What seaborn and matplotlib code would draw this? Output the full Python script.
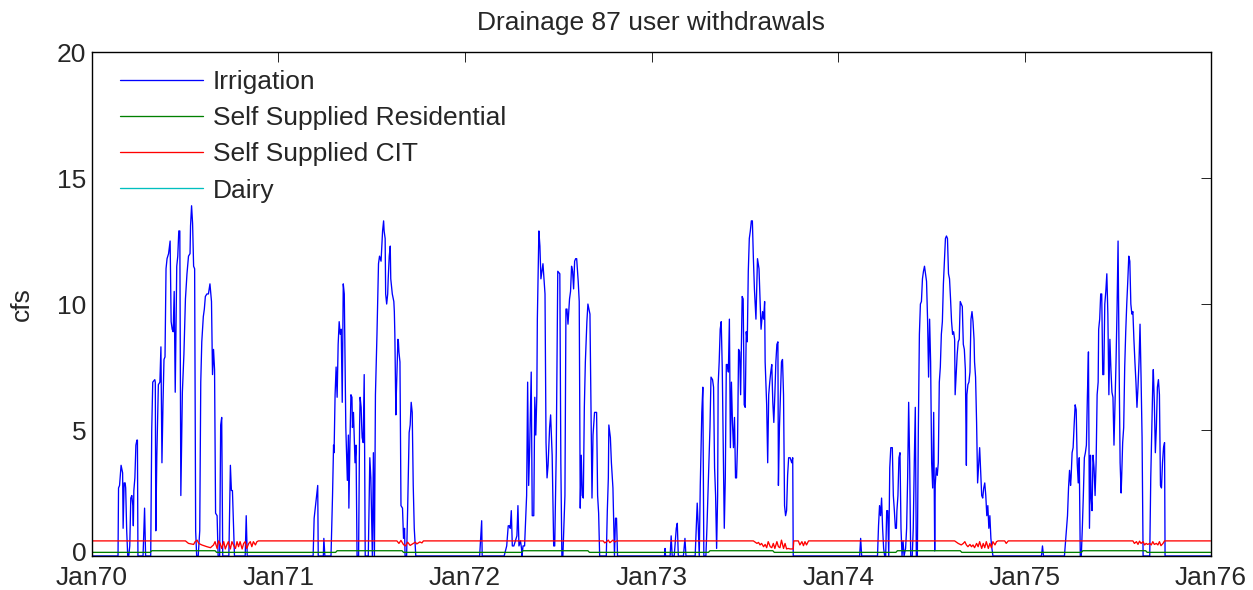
import matplotlib
matplotlib.use("Agg")
import matplotlib.pyplot as plt
import matplotlib.dates as mdates
import matplotlib.transforms as mtransforms
import numpy as np
import pandas as pd
import seaborn as sns

# ---------------- data (day-of-year, cfs) ----------------
years = [1970, 1971, 1972, 1973, 1974, 1975]
series_names = ["Irrigation", "Self Supplied Residential", "Self Supplied CIT", "Dairy"]
series_colors = ["#0000ff", "#008000", "#ff0000", "#00bfbf"]
title_text = "Drainage 87 user withdrawals"
ylabel_text = "cfs"
series_end = "1975-12-31"

irr_1970 = [(0,0),(51,0),(52,2.7),(54,2.8),(57,3.6),(59,3.4),(60,3.3),(61,1.1),(63,2.9),(65,2.9),(66,2.7),(68,1.0),(70,0),(72,0),(74,0.4),(76,2.3),(78,2.4),(80,2.0),(81,1.2),(82,2.6),(84,3.1),(86,4.4),(88,4.6),(89,4.6),(90,0),(100,0),(103,1.9),(105,0),(115,0),(117,5.0),(119,6.9),(123,7.0),(124,6.9),(125,1.0),(127,4.0),(130,6.8),(133,6.9),(135,8.3),(137,3.7),(139,6.0),(141,7.8),(143,7.9),(145,11.4),(147,11.8),(150,12.0),(153,12.5),(155,9.3),(157,9.0),(159,8.9),(161,10.5),(163,6.5),(166,11.5),(168,11.9),(170,12.9),(172,12.9),(174,2.4),(177,6.5),(180,8.0),(183,10.2),(186,11.2),(189,11.9),(192,12.0),(193,13.1),(195,13.9),(197,13.2),(199,11.5),(201,11.4),(203,1.0),(205,0),(208,0),(211,1.0),(213,6.9),(215,8.5),(218,9.5),(220,9.8),(222,10.3),(225,10.4),(228,10.4),(231,10.8),(234,10.1),(236,7.2),(238,8.2),(240,7.4),(242,1.7),(245,1.6),(247,0),(250,0),(252,5.2),(254,5.5),(256,0),(268,0),(271,3.6),(273,2.6),(275,2.6),(277,1.3),(279,0),(300,0),(302,1.6),(304,0)]
irr_1971 = [(0,0),(68,0),(70,1.5),(77,2.8),(78,0),(88,0),(89,0.7),(91,0),(103,0),(106,2.4),(108,4.4),(109,4.1),(111,6.4),(113,7.5),(115,6.3),(117,8.4),(119,9.3),(121,8.8),(123,9.0),(125,6.1),(127,10.8),(129,10.4),(132,5.1),(133,4.4),(135,3.0),(137,4.8),(138,1.9),(140,4.4),(142,6.4),(144,6.3),(145,5.1),(147,5.7),(149,4.4),(150,3.7),(152,4.4),(154,0),(157,0),(159,5.2),(160,6.3),(162,5.9),(163,5.2),(164,4.7),(166,4.5),(168,7.2),(170,0),(176,0),(179,3.9),(181,3.1),(184,0),(186,4.1),(188,0),(190,6.4),(193,8.8),(196,11.6),(198,11.9),(201,11.7),(204,12.9),(206,13.3),(207,12.9),(209,12.6),(210,10.4),(212,10.0),(214,10.4),(215,11.0),(217,11.9),(219,12.3),(220,11.0),(223,10.4),(226,10.1),(227,9.7),(228,8.8),(230,5.6),(231,6.5),(234,8.6),(235,8.5),(236,8.1),(238,7.7),(240,2.0),(243,1.9),(245,0.7),(247,1.1),(248,0),(251,0),(253,1.8),(256,4.9),(258,5.2),(260,6.1),(262,5.7),(264,2.8),(266,1.1),(269,0)]
irr_1972 = [(0,0),(29,0),(33,1.4),(34,0),(77,0),(82,0.4),(85,1.2),(87,1.2),(89,1.1),(91,1.8),(93,0.4),(96,0.4),(99,0.6),(102,0.8),(104,2.0),(106,0.4),(109,0.6),(111,0.3),(112,0),(114,0.4),(117,0.4),(121,2.4),(123,6.9),(125,2.8),(127,4.3),(130,7.3),(132,1.6),(135,1.6),(137,6.3),(139,4.8),(141,6.4),(142,9.4),(145,12.9),(147,12.3),(149,11.0),(151,11.3),(153,11.6),(155,11.0),(157,10.4),(159,4.5),(161,3.1),(163,3.6),(166,5.1),(168,5.6),(171,4.0),(174,0.4),(176,0.4),(179,4.1),(182,11.3),(186,11.2),(188,3.7),(190,0),(192,0),(196,2.4),(198,9.8),(200,9.8),(202,9.2),(205,10.2),(207,10.5),(209,11.5),(211,11.3),(213,10.6),(215,11.7),(217,11.8),(219,11.8),(222,10.9),(224,10.1),(226,1.9),(228,4.0),(230,2.4),(232,2.3),(234,5.9),(236,7.7),(239,9.3),(241,10.0),(245,9.6),(247,6.0),(249,2.3),(251,4.8),(254,5.7),(258,5.7),(260,2.4),(262,1.7),(264,0),(277,0),(279,1.8),(281,3.1),(282,5.2),(285,4.7),(287,3.7),(290,2.7),(293,0),(295,1.5),(297,1.5),(299,0)]
irr_1973 = [(0,0),(25,0),(26,0.3),(27,0),(36,0),(38,0.8),(40,0),(44,0),(48,1.1),(50,1.3),(52,0),(62,0),(65,0.7),(67,0),(85,0),(89,2.1),(91,1.2),(93,0),(95,2.8),(98,5.7),(100,6.7),(102,0),(106,0),(108,1.1),(111,3.1),(114,5.1),(116,7.1),(119,7.0),(121,6.7),(123,3.5),(125,2.4),(127,0.3),(129,2.4),(130,6.8),(132,7.7),(134,9.0),(136,9.3),(138,7.5),(140,4.4),(142,1.1),(144,3.1),(146,7.6),(148,7.6),(150,7.3),(152,9.4),(154,4.3),(156,6.9),(158,5.3),(160,4.3),(162,5.5),(164,3.1),(166,3.1),(168,4.5),(170,8.2),(172,8.1),(174,6.4),(176,9.0),(177,10.3),(179,10.2),(181,6.0),(183,5.9),(185,8.9),(187,8.5),(189,11.3),(191,12.6),(193,12.9),(195,13.3),(197,13.3),(199,11.8),(201,10.6),(204,9.4),(206,10.9),(207,11.8),(210,11.4),(212,10.2),(214,9.0),(217,9.7),(219,9.4),(221,10.1),(222,7.7),(225,6.0),(227,3.7),(229,6.4),(231,6.9),(233,7.3),(235,7.6),(237,6.1),(239,5.3),(241,6.4),(243,7.7),(245,8.4),(247,8.5),(248,2.8),(250,5.1),(252,6.4),(254,7.7),(256,7.8),(258,6.4),(260,2.0),(262,1.6),(264,1.8),(266,3.2),(268,3.9),(271,3.9),(274,3.7),(276,3.9),(277,0)]
irr_1974 = [(0,0),(42,0),(44,0.7),(46,0),(77,0),(79,1.2),(81,2.0),(83,1.6),(85,2.3),(87,1.1),(89,0.3),(91,0),(93,0),(95,1.8),(97,1.8),(99,0),(101,3.5),(103,4.3),(106,4.3),(108,2.4),(110,1.8),(112,1.1),(114,1.1),(115,1.8),(117,2.4),(119,3.9),(121,4.1),(123,1.1),(125,0),(127,0.6),(129,0),(132,0.3),(134,1.1),(136,3.1),(138,6.1),(140,3.7),(142,0),(145,0),(147,1.1),(149,3.7),(151,5.9),(153,0),(155,0),(157,5.1),(159,8.8),(161,10.0),(163,10.1),(165,11.0),(167,11.3),(169,11.5),(171,11.2),(173,10.9),(175,9.4),(177,7.1),(179,9.4),(181,7.7),(183,3.7),(185,2.7),(187,5.7),(189,0.2),(190,2.8),(192,3.5),(194,3.2),(196,3.7),(198,6.9),(200,7.5),(202,8.8),(204,9.3),(206,10.8),(208,11.7),(210,12.6),(212,12.7),(214,12.6),(216,11.2),(218,11.0),(220,10.2),(222,9.3),(224,8.8),(226,8.9),(228,8.6),(229,6.4),(231,7.2),(233,8.0),(235,8.5),(237,8.6),(239,10.1),(241,10.0),(243,9.9),(245,8.4),(247,8.2),(249,7.4),(251,3.6),(252,6.4),(254,6.8),(256,6.9),(258,7.3),(260,9.4),(262,9.7),(264,9.3),(266,8.6),(267,7.7),(269,7.1),(271,5.3),(273,2.9),(275,3.6),(277,4.3),(279,3.3),(281,2.4),(283,2.3),(285,2.7),(287,2.9),(289,2.4),(291,1.6),(293,2.0),(295,1.1),(297,1.6),(299,0.7),(301,0.3),(303,0)]
irr_1975 = [(0,0),(33,0),(35,0.4),(37,0),(78,0),(82,1.1),(84,1.6),(86,2.7),(88,3.4),(90,2.8),(91,3.1),(93,4.1),(95,4.3),(97,5.2),(99,6.0),(101,5.8),(103,3.7),(105,2.9),(107,3.9),(109,0),(111,0),(113,1.1),(115,2.4),(117,3.9),(119,4.1),(121,4.4),(123,6.4),(125,8.1),(127,1.1),(129,4.0),(130,2.4),(132,1.8),(134,4.0),(136,3.5),(138,2.4),(140,3.7),(142,6.4),(144,6.9),(145,9.0),(147,9.4),(149,10.4),(151,10.4),(153,7.2),(155,7.2),(157,10.0),(159,10.5),(161,11.2),(163,9.6),(165,6.4),(167,8.6),(169,7.4),(171,6.5),(173,6.3),(175,4.4),(177,6.1),(179,7.7),(181,9.8),(183,12.5),(185,7.7),(187,3.7),(189,2.5),(190,3.1),(192,4.5),(194,5.1),(196,7.5),(198,8.9),(200,10.0),(202,10.9),(204,11.9),(206,11.7),(208,10.0),(210,9.6),(212,9.7),(214,8.6),(216,7.7),(218,6.9),(220,5.9),(222,6.7),(224,7.7),(226,9.2),(228,7.1),(230,4.7),(232,0),(245,0),(247,3.1),(249,5.1),(251,6.9),(252,7.4),(254,6.1),(256,4.1),(258,5.1),(260,6.7),(262,7.0),(264,6.4),(266,2.8),(268,2.7),(270,3.7),(272,4.3),(274,4.5),(275,0)]

cit_1970 = [(0,0.6),(183,0.6),(189,0.5),(199,0.46),(202,0.57),(206,0.63),(209,0.5),(215,0.44),(225,0.37),(232,0.33),(238,0.44),(241,0.57),(245,0.3),(248,0.6),(251,0.5),(254,0.3),(258,0.57),(261,0.28),(264,0.44),(267,0.57),(271,0.28),(274,0.57),(277,0.44),(281,0.3),(284,0.57),(287,0.37),(290,0.57),(294,0.28),(297,0.5),(300,0.57),(303,0.3),(307,0.5),(310,0.57),(313,0.37),(316,0.57),(320,0.44),(323,0.57),(326,0.6)]
cit_1971 = [(0,0.6),(232,0.6),(236,0.5),(240,0.62),(245,0.45),(249,0.4),(253,0.55),(258,0.42),(264,0.5),(268,0.55),(271,0.48),(277,0.56),(281,0.52),(284,0.6),(290,0.6)]
cit_1972 = [(0,0.6),(271,0.6),(274,0.52),(277,0.56),(281,0.63),(284,0.53),(287,0.58),(290,0.63),(294,0.56),(297,0.6)]
cit_1973 = [(0,0.6),(199,0.6),(206,0.5),(209,0.54),(212,0.44),(215,0.5),(219,0.37),(222,0.46),(225,0.33),(228,0.57),(232,0.37),(235,0.33),(238,0.5),(241,0.3),(245,0.57),(248,0.37),(251,0.33),(254,0.63),(258,0.3),(261,0.5),(264,0.28),(267,0.3),(271,0.28),(274,0.28),(277,0.28),(278,0.6),(287,0.6),(290,0.44),(294,0.57),(297,0.41),(300,0.57),(303,0.44),(307,0.6)]
cit_1974 = [(0,0.6),(228,0.6),(235,0.5),(241,0.44),(245,0.5),(248,0.57),(251,0.44),(254,0.37),(258,0.46),(261,0.37),(264,0.44),(267,0.33),(271,0.5),(274,0.37),(277,0.57),(281,0.3),(284,0.5),(287,0.33),(290,0.57),(294,0.3),(297,0.5),(300,0.33),(303,0.57),(307,0.44),(310,0.57),(313,0.6),(326,0.6),(329,0.5),(333,0.6)]
cit_1975 = [(0,0.6),(212,0.6),(215,0.5),(219,0.57),(222,0.46),(225,0.59),(228,0.5),(232,0.57),(235,0.44),(238,0.5),(241,0.46),(245,0.5),(248,0.44),(251,0.57),(254,0.46),(258,0.5),(261,0.44),(264,0.57),(267,0.41),(271,0.5),(274,0.6)]

res_winter = 0.145
res_summer = 0.21
res_summer_start = [117, 115, 114, 114, 116, 114]
res_summer_end = [241, 242, 241, 237, 239, 237]
dairy_level = 0.0

irrigation_years = [irr_1970, irr_1971, irr_1972, irr_1973, irr_1974, irr_1975]
cit_years = [cit_1970, cit_1971, cit_1972, cit_1973, cit_1974, cit_1975]


def build(year_lists, end_value):
    dates, vals = [], []
    for y, pts in zip(years, year_lists):
        base = pd.Timestamp(f"{y}-01-01")
        for d, v in pts:
            dates.append(base + pd.Timedelta(days=d))
            vals.append(v)
    dates.append(pd.Timestamp(series_end))
    vals.append(end_value)
    return pd.DataFrame({"date": dates, "cfs": vals})


df_irr = build(irrigation_years, 0.0)
df_cit = build(cit_years, 0.6)
res_lists = [[(0, res_winter), (s - 3, res_winter), (s, res_summer), (e, res_summer), (e + 3, res_winter)]
             for s, e in zip(res_summer_start, res_summer_end)]
df_res = build(res_lists, res_winter)
df_dairy = pd.DataFrame({"date": [pd.Timestamp("1970-01-01"), pd.Timestamp(series_end)],
                         "cfs": [dairy_level, dairy_level]})

# ---------------- styling ----------------
sns.set_style("white")
plt.rcParams["font.family"] = ["Liberation Sans", "DejaVu Sans"]
FS = 19

fig = plt.figure(figsize=(12.53, 5.90), dpi=100)
ax = fig.add_axes([0.0734, 0.0576, 0.8931, 0.8542])

lw = 0.95
frames = [df_irr, df_res, df_cit, df_dairy]
zorders = [2.3, 2.4, 2.5, 2.0]
for df, name, col, z in zip(frames, series_names, series_colors, zorders):
    sns.lineplot(data=df, x="date", y="cfs", color=col, linewidth=lw, label=name,
                 estimator=None, sort=False, ax=ax, zorder=z)

ax.set_xlim(pd.Timestamp("1970-01-01"), pd.Timestamp("1976-01-01"))
ax.set_ylim(0, 20)
ax.set_yticks([0, 5, 10, 15, 20])
ax.xaxis.set_major_locator(mdates.YearLocator())
ax.xaxis.set_major_formatter(mdates.DateFormatter("%b%y"))

ax.tick_params(direction="in", length=7, width=0.6, top=True, right=True,
               labelsize=FS, color="black")
ax.tick_params(axis="x", pad=7)
ax.tick_params(axis="y", pad=4)
for s in ax.spines.values():
    s.set_visible(True)
    s.set_color("black")
    s.set_linewidth(1.0)

ax.set_xlabel("")
ax.set_ylabel(ylabel_text, fontsize=FS, labelpad=17)
ax.set_title(title_text, fontsize=FS, pad=16)

# lift the "0" label slightly, as in the reference
fig.canvas.draw()
zero_lbl = ax.get_yticklabels()[0]
zero_lbl.set_transform(zero_lbl.get_transform() +
                       mtransforms.ScaledTranslation(0, 5 / 100, fig.dpi_scale_trans))

leg = ax.legend(loc="upper left", bbox_to_anchor=(0.025, 0.964), frameon=False,
                fontsize=FS, handlelength=3.14, handletextpad=0.38,
                labelspacing=0.46, borderpad=0, borderaxespad=0)

fig.savefig("out.png", dpi=100)
